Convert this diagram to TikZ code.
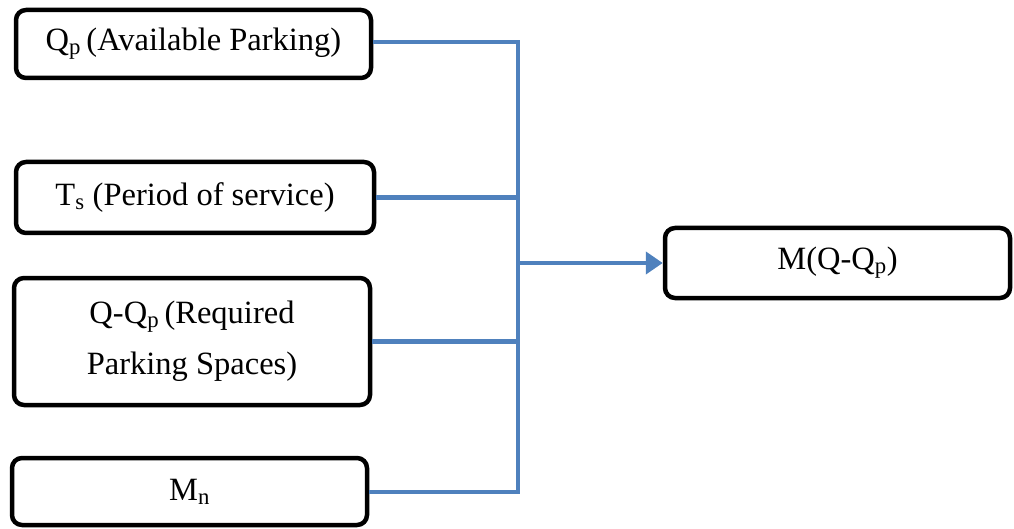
\documentclass[tikz,border=0pt]{standalone}
\usepackage{fontspec}
\setmainfont{Liberation Serif}
\usetikzlibrary{arrows.meta}
\begin{document}
\begin{tikzpicture}[x=1pt,y=-1pt,
  box/.style={draw,line width=4.5pt,rounded corners=10pt,align=center,
    font=\fontsize{32.5}{51}\selectfont,inner sep=0pt},
  link/.style={draw={rgb,255:red,79;green,129;blue,189},line width=4.5pt}]
  \useasboundingbox (0,0) rectangle (1014,529);
  \node[box,minimum width=355pt,minimum height=68pt] (qp) at (193.5,44) {Q\textsubscript{p}\,(Available Parking)};
  \node[box,minimum width=358pt,minimum height=71pt] (ts) at (195,197.5) {T\textsubscript{s} (Period of service)};
  \node[box,minimum width=356pt,minimum height=127pt] (qq) at (192,341.5) {Q-Q\textsubscript{p}\,(Required\\Parking Spaces)};
  \node[box,minimum width=355pt,minimum height=67pt] (mn) at (189.5,491.5) {M\textsubscript{n}};
  \node[box,minimum width=345pt,minimum height=70pt] (m) at (837.5,263) {M(Q-Q\textsubscript{p})};
  \coordinate (top) at (518,42);
  \coordinate (bot) at (518,492);
  \draw[link] (qp.east|-top) -- (top) -- (bot) -- (mn.east|-bot);
  \draw[link] (ts.east) -- (ts.east-|top);
  \draw[link] (qq.east) -- (qq.east-|top);
  \draw[link,-{Triangle[length=17pt,width=22pt]}] (m.west-|top) -- (m.west);
\end{tikzpicture}
\end{document}
